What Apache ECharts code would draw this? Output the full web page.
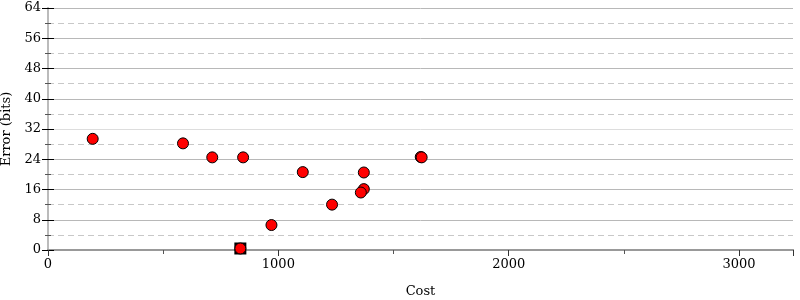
<!DOCTYPE html>
<html>
<head>
<meta charset="utf-8">
<script src="https://cdn.jsdelivr.net/npm/echarts@6/dist/echarts.min.js"></script>
<style>html,body{margin:0;padding:0;background:#fff}#c{width:800px;height:300px}</style>
</head>
<body>
<div id="c"></div>
<script>
var costs  = [194, 586, 713, 847, 970, 1106, 1233, 1371, 1371, 1358, 1618, 1622, 835];
var errors = [29.4, 28.2, 24.5, 24.5, 6.6, 20.6, 12.0, 20.5, 16.1, 15.2, 24.6, 24.5, 0.4];
var bestCost = [835];
var bestError = [0.4];
var xTicks = [0, 1000, 2000, 3000];
var yTicks = [0, 8, 16, 24, 32, 40, 48, 56, 64];

var font = 'DejaVu Serif';
var pts = costs.map(function (c, i) { return [c, errors[i]]; });
var best = bestCost.map(function (c, i) { return [c, bestError[i]]; });

var chart = echarts.init(document.getElementById('c'), null, {renderer: 'canvas'});
var gridColors = yTicks.map(function (t) { return t === 32 ? '#dddddd' : '#b8b8b8'; });
chart.setOption({
  animation: false,
  grid: {left: 48, right: 7, top: 8, bottom: 50, containLabel: false, outerBoundsMode: 'none'},
  xAxis: [{
    type: 'value', min: 0, max: 3234, interval: 1000,
    name: 'Cost', nameLocation: 'middle', nameGap: 35,
    nameTextStyle: {fontFamily: font, fontSize: 13, color: '#000'},
    axisLine: {show: true, onZero: false, lineStyle: {color: '#999', width: 2}},
    axisTick: {show: true, length: 6, lineStyle: {color: '#333'}},
    minorTick: {show: true, splitNumber: 2, length: 4, lineStyle: {color: '#555'}},
    axisLabel: {fontFamily: font, fontSize: 13, color: '#000', margin: 8, showMaxLabel: false,
      formatter: function (v) { return xTicks.indexOf(v) >= 0 ? String(v) : ''; }},
    splitLine: {show: false}
  }, {
    type: 'value', min: 0, max: 3234, interval: 1000, position: 'top',
    axisLine: {show: true, lineStyle: {color: '#999', width: 2}},
    axisTick: {show: false}, axisLabel: {show: false}, splitLine: {show: false}
  }],
  yAxis: [{
    type: 'value', min: 0, max: 64, interval: 8,
    name: 'Error (bits)', nameLocation: 'middle', nameGap: 31,
    nameTextStyle: {fontFamily: font, fontSize: 13, color: '#000'},
    axisLine: {show: true, lineStyle: {color: '#bbb', width: 2}},
    axisTick: {show: true, length: 6, lineStyle: {color: '#000'}},
    minorTick: {show: true, splitNumber: 2, length: 3, lineStyle: {color: '#555'}},
    axisLabel: {fontFamily: font, fontSize: 13, color: '#000', margin: 7,
      formatter: function (v) { return yTicks.indexOf(v) >= 0 ? String(v) : ''; }},
    splitLine: {show: true, lineStyle: {color: gridColors, width: 1}},
    minorSplitLine: {show: true, lineStyle: {color: '#c8c8c8', type: [6, 4], width: 1}}
  }, {
    type: 'value', min: 0, max: 64, interval: 8, position: 'right',
    axisLine: {show: true, lineStyle: {color: '#bbb', width: 2}},
    axisTick: {show: true, length: 6, lineStyle: {color: '#000'}},
    minorTick: {show: true, splitNumber: 2, length: 3, lineStyle: {color: '#555'}},
    axisLabel: {show: false}, splitLine: {show: false}
  }],
  series: [{
    type: 'scatter', data: best, symbol: 'rect', symbolSize: 12,
    itemStyle: {color: '#000', opacity: 1}, z: 3, silent: true
  }, {
    type: 'scatter', data: pts, symbol: 'circle', symbolSize: 11,
    itemStyle: {color: '#ff0000', borderColor: '#000', borderWidth: 1, opacity: 1}, z: 4, silent: true
  }]
});
</script>
</body>
</html>
